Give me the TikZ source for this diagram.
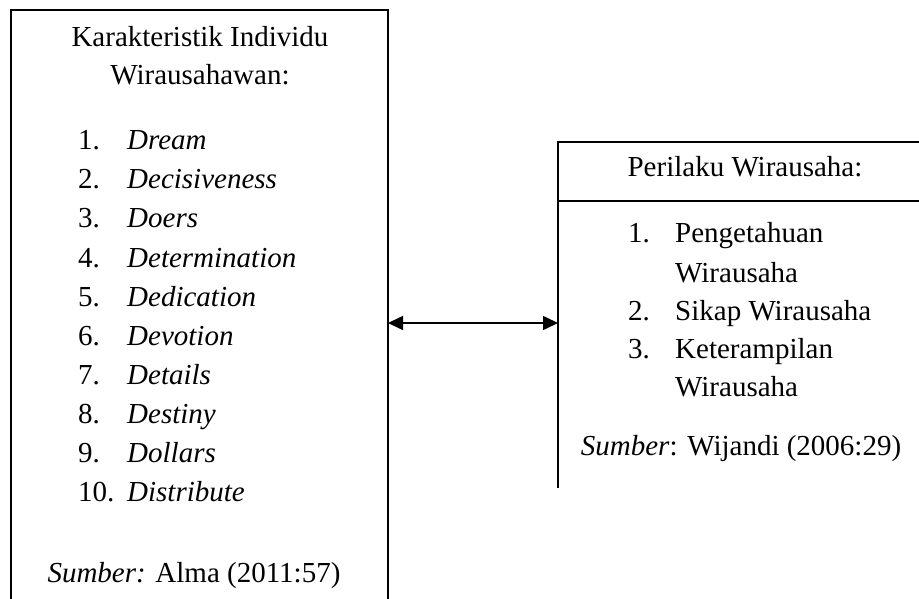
\documentclass[tikz,border=0pt]{standalone}
\usepackage{fontspec}
\setmainfont{Liberation Serif}
\usetikzlibrary{arrows.meta}
\begin{document}
\begin{tikzpicture}[x=1pt,y=-1pt,
  txt/.style={inner sep=0pt,font=\fontsize{29}{39}\selectfont},
  numtxt/.style={txt,anchor=base west},
  ctxt/.style={txt,anchor=base},
  border/.style={line width=1.6pt,line join=miter},
  link/.style={line width=1.6pt,{Triangle[length=15pt,width=14pt]}-{Triangle[length=15pt,width=14pt]}}]
\useasboundingbox (0,0) rectangle (919,599);
% left box (open at the bottom)
\coordinate (lbl) at (11,599);
\coordinate (lbtl) at (11,10);
\coordinate (lbtr) at (388,10);
\coordinate (lbr) at (388,599);
\draw[border] (lbl) -- (lbtl) -- (lbtr) -- (lbr);
% right box (open at the right and bottom)
\coordinate (rbl) at (558,488);
\coordinate (rbtl) at (558,142);
\coordinate (rbtr) at (919,142);
\coordinate (rml) at (558,201);
\coordinate (rmr) at (919,201);
\draw[border] (rbl) -- (rbtl) -- (rbtr);
\draw[border] (rml) -- (rmr);
% left texts
\node[ctxt] (lh1) at (200,47) {Karakteristik Individu};
\node[ctxt] (lh2) at (200,85) {Wirausahawan:};
\foreach \n/\w [count=\i from 0] in {1/Dream,2/Decisiveness,3/Doers,4/Determination,5/Dedication,6/Devotion,7/Details,8/Destiny,9/Dollars,10/Distribute}{
  \node[numtxt] (ln\n) at (78,150+39*\i) {\n.};
  \node[numtxt] (lw\n) at (127,150+39*\i) {\textit{\w}};
}
\node[ctxt] (lsrc) at (194,582) {\textit{Sumber:} Alma (2011:57)};
% right texts
\node[ctxt] (rh) at (745,177) {Perilaku Wirausaha:};
\node[numtxt] (rn1) at (628,243) {1.};
\node[numtxt] (rw1a) at (675,243) {Pengetahuan};
\node[numtxt] (rw1b) at (675,282) {Wirausaha};
\node[numtxt] (rn2) at (628,320) {2.};
\node[numtxt] (rw2) at (675,320) {Sikap Wirausaha};
\node[numtxt] (rn3) at (628,358) {3.};
\node[numtxt] (rw3a) at (675,358) {Keterampilan};
\node[numtxt] (rw3b) at (675,396) {Wirausaha};
\node[ctxt] (rsrc) at (741,455) {\textit{Sumber}: Wijandi (2006:29)};
% connector
\coordinate (aL) at (388,323);
\coordinate (aR) at (558,323);
\draw[link] (aL) -- (aR);
\end{tikzpicture}
\end{document}
